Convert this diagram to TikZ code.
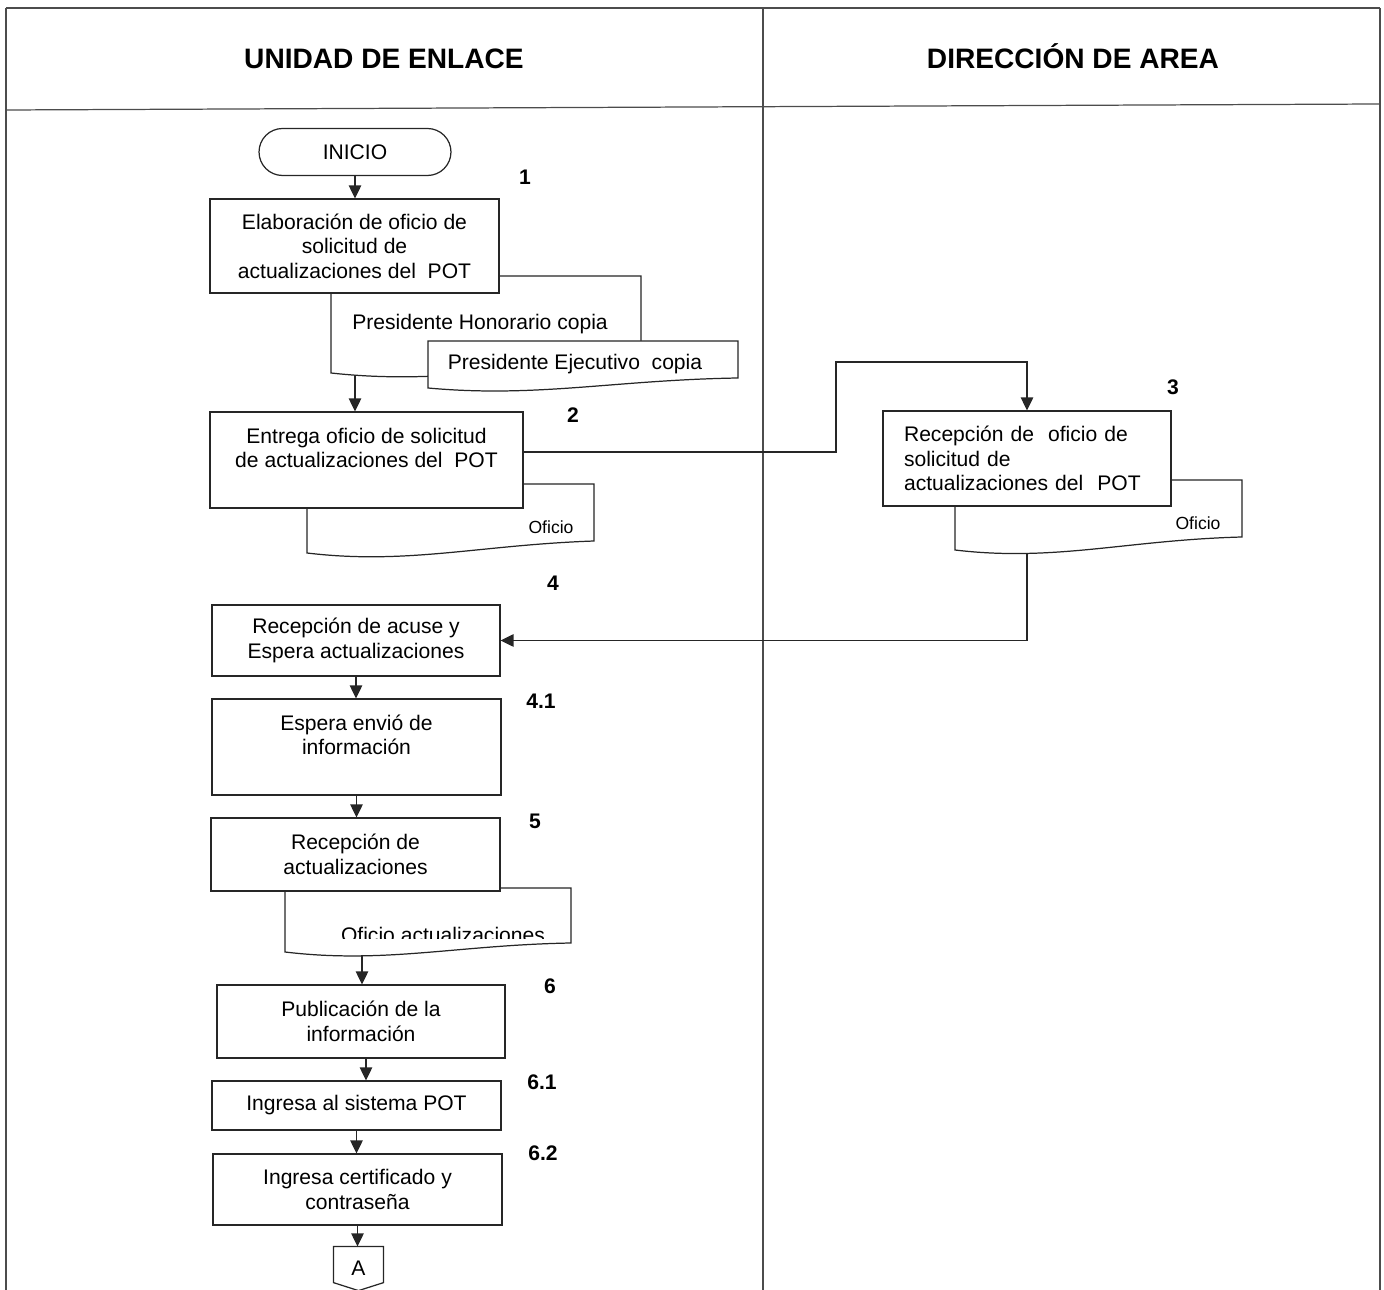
\documentclass[tikz,border=0pt]{standalone}
\usepackage{fontspec}
\setmainfont{Liberation Sans}
\usetikzlibrary{arrows.meta,positioning}

\begin{document}
\begin{tikzpicture}[x=0.02cm, y=-0.02cm, >={Triangle[length=2.6mm,width=2.5mm]},
    font=\fontsize{12}{14}\selectfont, line width=0.7pt, draw=black!85,
    box/.style={draw, fill=white, align=center, inner sep=2pt},
    num/.style={font=\fontsize{12}{14}\selectfont\bfseries},
    frame/.style={draw=black!70}]
    \useasboundingbox (0,0) rectangle (1384,1290);

    % swimlanes
    \draw[frame] (6,8) -- (1380,8);
    \draw[frame] (6,110) -- (1380,104);
    \draw[frame] (6,8) -- (6,1290);
    \draw[frame] (763,8) -- (763,1290);
    \draw[frame] (1380,8) -- (1380,1290);
    \node[font=\fontsize{16}{19}\selectfont\bfseries] (unidad) at (384,59) {UNIDAD DE ENLACE};
    \node[font=\fontsize{16}{19}\selectfont\bfseries] (direccion) at (1073,56) {DIRECCIÓN DE AREA};

    % documents
    \draw[fill=white] (331,276) -- (331,373) .. controls (440,385) and (517,365) .. (641,363) -- (641,276) -- cycle;
    \node (honorario) at (480,324) {Presidente Honorario copia};
    \draw[fill=white] (428,341) -- (428,388) .. controls (537,398) and (614,380) .. (738,378) -- (738,341) -- cycle;
    \node (ejecutivo) at (575,364) {Presidente Ejecutivo~ copia};
    \draw[fill=white] (307,484) -- (307,553) .. controls (407,565) and (479,545) .. (594,541) -- (594,484) -- cycle;
    \node[font=\fontsize{10}{12}\selectfont] (oficio2) at (551,527) {Oficio};
    \draw[fill=white] (955,480) -- (955,550) .. controls (1055,562) and (1127,540) .. (1242,537) -- (1242,480) -- cycle;
    \node[font=\fontsize{10}{12}\selectfont] (oficio3) at (1198,523) {Oficio};
    \draw[fill=white] (285,888) -- (285,952) .. controls (385,964) and (457,945) .. (571,943) -- (571,888) -- cycle;
    \begin{scope}
        \clip (285,888) rectangle (571,939);
        \node[anchor=base] (oficioact) at (443,943) {Oficio actualizaciones};
    \end{scope}
    \coordinate (d1) at (355,375);
    \coordinate (d3) at (1027,553);
    \coordinate (d5) at (362,955);

    % steps
    \node[draw, rounded corners=0.47cm, minimum width=3.84cm, minimum height=0.94cm] (inicio) at (355,152) {INICIO};
    \node[box, minimum width=5.78cm, minimum height=1.88cm] (b1) at (354.5,246) {Elaboración de oficio de\\solicitud de\\actualizaciones del~ POT};
    \node[box, minimum width=6.26cm, minimum height=1.92cm] (b2) at (366.5,460) {Entrega oficio de solicitud\\de actualizaciones del~ POT\\\mbox{}};
    \node[box, align=left, inner xsep=0.42cm, text width=4.92cm, minimum height=1.9cm] (b3) at (1027,458.5) {Recepción de~ oficio de\\solicitud de\\actualizaciones del~ POT};
    \node[box, minimum width=5.76cm, minimum height=1.42cm] (b4) at (356,640.5) {Recepción de acuse y\\Espera actualizaciones};
    \node[box, minimum width=5.78cm, minimum height=1.92cm] (b41) at (356.5,747) {Espera envió de\\información\\\mbox{}};
    \node[box, minimum width=5.78cm, minimum height=1.46cm] (b5) at (355.5,854.5) {Recepción de\\actualizaciones};
    \node[box, minimum width=5.76cm, minimum height=1.46cm] (b6) at (361,1021.5) {Publicación de la\\información};
    \node[box, minimum width=5.78cm, minimum height=0.98cm] (b61) at (356.5,1105.5) {Ingresa al sistema POT};
    \node[box, minimum width=5.78cm, minimum height=1.42cm] (b62) at (357.5,1189.5) {Ingresa certificado y\\contraseña};
    \node[minimum width=0.98cm, minimum height=0.86cm] (conA) at (358.5,1268.5) {A};
    \draw (conA.north west) -- (conA.north east) -- ([yshift=0.16cm]conA.south east) -- (conA.south) -- ([yshift=0.16cm]conA.south west) -- cycle;

    % step numbers
    \node[num] (n1) at (525,177) {1};
    \node[num] (n2) at (573,415) {2};
    \node[num] (n3) at (1173,387) {3};
    \node[num] (n4) at (553,583) {4};
    \node[num] (n41) at (541,701) {4.1};
    \node[num] (n5) at (535,821) {5};
    \node[num] (n6) at (550,986) {6};
    \node[num] (n61) at (542,1082) {6.1};
    \node[num] (n62) at (543,1153) {6.2};

    % flow
    \coordinate (turn) at (836,362);
    \draw[->] (inicio.south) -- (inicio.south |- b1.north);
    \draw[->] (d1) -- (d1 |- b2.north);
    \draw[->] ([yshift=0.16cm]b2.east) -| (turn) -| (b3.north);
    \draw[->] (d3) |- (b4.east);
    \draw[->] (b4.south) -- (b4.south |- b41.north);
    \draw[->] (b41.south) -- (b41.south |- b5.north);
    \draw[->] (d5) -- (d5 |- b6.north);
    \draw[->] ([xshift=0.1cm]b6.south) -- ([xshift=0.1cm]b6.south |- b61.north);
    \draw[->] (b61.south) -- (b61.south |- b62.north);
    \draw[->] (b62.south) -- (b62.south |- conA.north);
\end{tikzpicture}
\end{document}
